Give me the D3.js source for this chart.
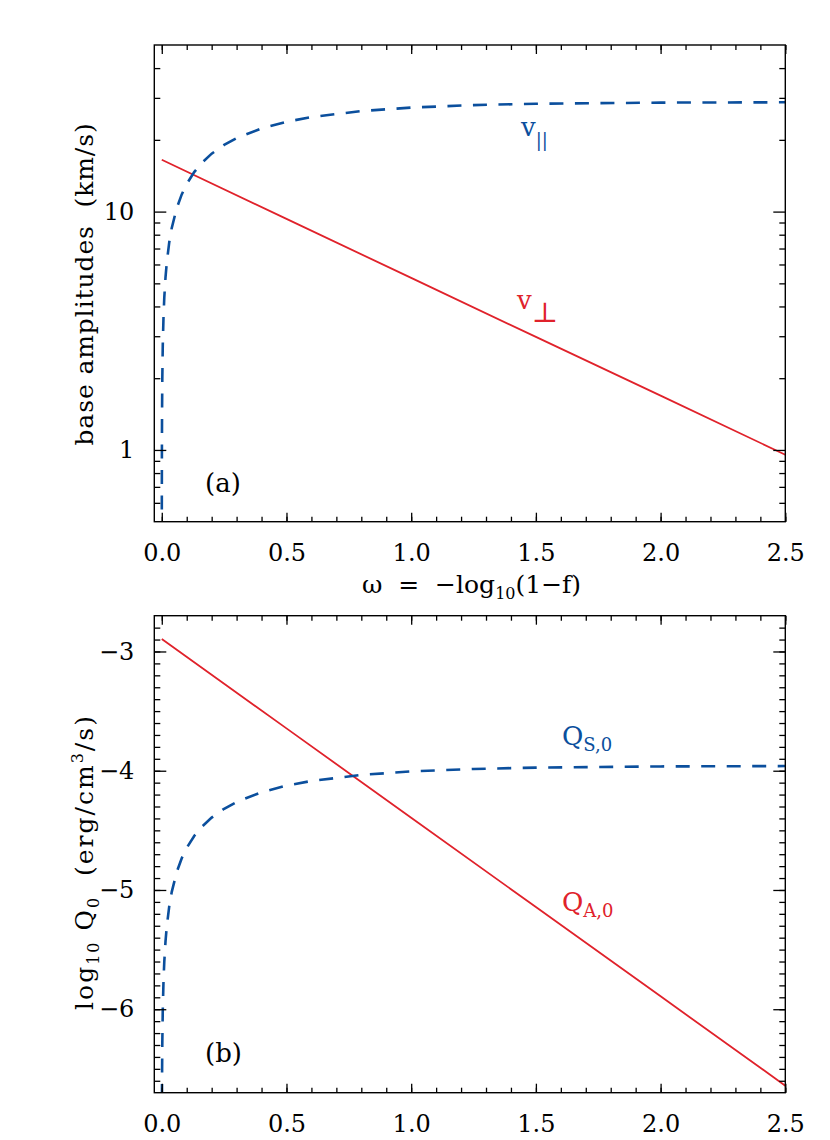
<!DOCTYPE html>
<html>
<head>
<meta charset="utf-8">
<script src="https://cdn.jsdelivr.net/npm/d3@7"></script>
<style>
  body { margin: 0; background: #fff; }
  text { font-family: 'DejaVu Serif', serif; fill: #000; }
</style>
</head>
<body>
<svg id="chart" width="830" height="1140"></svg>
<script>
// values
const omega = [0.0001, 0.0002, 0.0005, 0.001, 0.002, 0.004, 0.007, 0.01, 0.015, 0.02, 0.03, 0.04, 0.06, 0.08, 0.1, 0.13, 0.16, 0.2, 0.25, 0.3, 0.4, 0.5, 0.6, 0.8, 1.0, 1.25, 1.5, 2.0, 2.5]
const vPar = [0.44, 0.62, 0.98, 1.38, 1.95, 2.76, 3.64, 4.35, 5.31, 6.11, 7.44, 8.54, 10.34, 11.81, 13.06, 14.65, 15.99, 17.5, 19.05, 20.34, 22.34, 23.82, 24.92, 26.42, 27.32, 27.98, 28.34, 28.66, 28.75]
const qS = [-7.6, -7.3, -6.9, -6.6, -6.3, -6.0, -5.756, -5.603, -5.429, -5.307, -5.136, -5.016, -4.849, -4.734, -4.647, -4.547, -4.471, -4.393, -4.319, -4.262, -4.18, -4.125, -4.086, -4.035, -4.006, -3.985, -3.974, -3.964, -3.961]

const omegaLine = [0, 0.5, 1.0, 1.5, 2.0, 2.5]
const vPerp = [16.5, 9.32, 5.27, 2.98, 1.69, 0.955]
const qA = [-2.896, -3.645, -4.394, -5.143, -5.892, -6.641]

const xTickVals = [0, 0.5, 1.0, 1.5, 2.0, 2.5]
const xMinorVals = d3.range(0, 2.51, 0.1)
const yTopTicks = [1, 10]
const yTopMinor = [0.6, 0.7, 0.8, 0.9, 2, 3, 4, 5, 6, 7, 8, 9, 20, 30, 40]
const yBotTicks = [-6, -5, -4, -3]
const yBotMinor = d3.range(-6.6, -2.75, 0.1)

const blue = '#0b4f9d'
const red = '#e0222b'

const svg = d3.select('#chart')
const left = 154.3, right = 785.3

const x = d3.scaleLinear().domain([-0.03, 2.5]).range([left, right])
const yTop = d3.scaleLog().domain([0.5, 50]).range([521.7, 45])
const yBot = d3.scaleLinear().domain([-6.7, -2.7]).range([1092.7, 615.7])

// draws frame + inward ticks on all 4 sides
const drawFrame = (g, y, top, bottom, yMajor, yMinor, yFmt) => {
  const ax = (axis) => g.append('g').call(axis).call((s) => s.select('.domain').remove())
  const fix = (s) => s.selectAll('line').attr('stroke', '#000').attr('stroke-width', 1.3)

  ax(d3.axisBottom(x).tickValues(xTickVals).tickSize(-9).tickFormat(d3.format('.1f')).tickPadding(22))
    .attr('transform', `translate(0,${bottom})`).call(fix)
  ax(d3.axisBottom(x).tickValues(xMinorVals).tickSize(-5).tickFormat(''))
    .attr('transform', `translate(0,${bottom})`).call(fix)
  ax(d3.axisTop(x).tickValues(xTickVals).tickSize(-9).tickFormat(''))
    .attr('transform', `translate(0,${top})`).call(fix)
  ax(d3.axisTop(x).tickValues(xMinorVals).tickSize(-5).tickFormat(''))
    .attr('transform', `translate(0,${top})`).call(fix)

  ax(d3.axisLeft(y).tickValues(yMajor).tickSize(-12).tickFormat(yFmt).tickPadding(20))
    .attr('transform', `translate(${left},0)`).call(fix)
  ax(d3.axisLeft(y).tickValues(yMinor).tickSize(-6).tickFormat(''))
    .attr('transform', `translate(${left},0)`).call(fix)
  ax(d3.axisRight(y).tickValues(yMajor).tickSize(-12).tickFormat(''))
    .attr('transform', `translate(${right},0)`).call(fix)
  ax(d3.axisRight(y).tickValues(yMinor).tickSize(-6).tickFormat(''))
    .attr('transform', `translate(${right},0)`).call(fix)

  g.selectAll('.tick text').attr('font-size', 24).attr('font-family', 'DejaVu Serif').attr('fill', '#000')

  g.append('rect')
    .attr('x', left).attr('y', top)
    .attr('width', right - left).attr('height', bottom - top)
    .attr('fill', 'none').attr('stroke', '#000').attr('stroke-width', 1.4)
}

const drawPanel = (id, y, top, bottom, dashVals, solidVals) => {
  const g = svg.append('g')
  g.append('clipPath').attr('id', id)
    .append('rect').attr('x', left).attr('y', top).attr('width', right - left).attr('height', bottom - top)

  const lines = g.append('g').attr('clip-path', `url(#${id})`)
  const line = d3.line().x((d) => x(d[0])).y((d) => y(d[1]))

  lines.append('path')
    .attr('d', line(omegaLine.map((o, i) => [o, solidVals[i]])))
    .attr('fill', 'none').attr('stroke', red).attr('stroke-width', 1.8)
  lines.append('path')
    .attr('d', line(omega.map((o, i) => [o, dashVals[i]])))
    .attr('fill', 'none').attr('stroke', blue).attr('stroke-width', 2.6)
    .attr('stroke-dasharray', '14,11.5')
  return g
}

// panel (a)
const gA = drawPanel('clipA', yTop, 45, 521.7, vPar, vPerp)
drawFrame(gA, yTop, 45, 521.7, yTopTicks, yTopMinor, d3.format('d'))

// panel (b)
const gB = drawPanel('clipB', yBot, 615.7, 1092.7, qS, qA)
drawFrame(gB, yBot, 615.7, 1092.7, yBotTicks, yBotMinor, (d) => '\u2212' + Math.abs(d))

// axis titles
svg.append('text')
  .attr('transform', 'translate(92.5,284) rotate(-90)')
  .attr('text-anchor', 'middle').attr('font-size', 25).attr('letter-spacing', 0.9)
  .attr('xml:space', 'preserve')
  .text('base amplitudes  (km/s)')

const yb = svg.append('text')
  .attr('transform', 'translate(92.5,862) rotate(-90)')
  .attr('text-anchor', 'middle').attr('font-size', 25).attr('letter-spacing', 2)
  .attr('xml:space', 'preserve')
yb.append('tspan').text('log')
yb.append('tspan').attr('font-size', 16).attr('dy', 6).text('10')
yb.append('tspan').attr('dy', -6).text(' Q')
yb.append('tspan').attr('font-size', 16).attr('dy', 6).text('0')
yb.append('tspan').attr('dy', -6).text('  (erg/cm')
yb.append('tspan').attr('font-size', 16).attr('dy', -10).text('3')
yb.append('tspan').attr('dy', 10).text('/s)')

const xl = svg.append('text')
  .attr('x', 362).attr('y', 593).attr('font-size', 25)
  .attr('xml:space', 'preserve')
xl.append('tspan').text('\u03c9  =  \u2212log')
xl.append('tspan').attr('font-size', 16).attr('dy', 6).text('10')
xl.append('tspan').attr('dy', -6).text('(1\u2212f)')

// panel tags
svg.append('text').attr('x', 205).attr('y', 492).attr('font-size', 26).text('(a)')
svg.append('text').attr('x', 205).attr('y', 1062).attr('font-size', 26).text('(b)')

// curve labels
const lab = (xp, yp, main, sub, subDy, color, subSize) => {
  const t = svg.append('text').attr('x', xp).attr('y', yp).attr('font-size', 26).style('fill', color)
  t.append('tspan').text(main)
  t.append('tspan').attr('font-size', subSize).attr('dy', subDy).text(sub)
}
lab(521, 136, 'v', '||', 10, blue, 18)
lab(517, 309, 'v', '\u22a5', 13, red, 28)
lab(562, 745, 'Q', 'S,0', 6, blue, 18)
lab(562, 911, 'Q', 'A,0', 6, red, 18)
</script>
</body>
</html>
